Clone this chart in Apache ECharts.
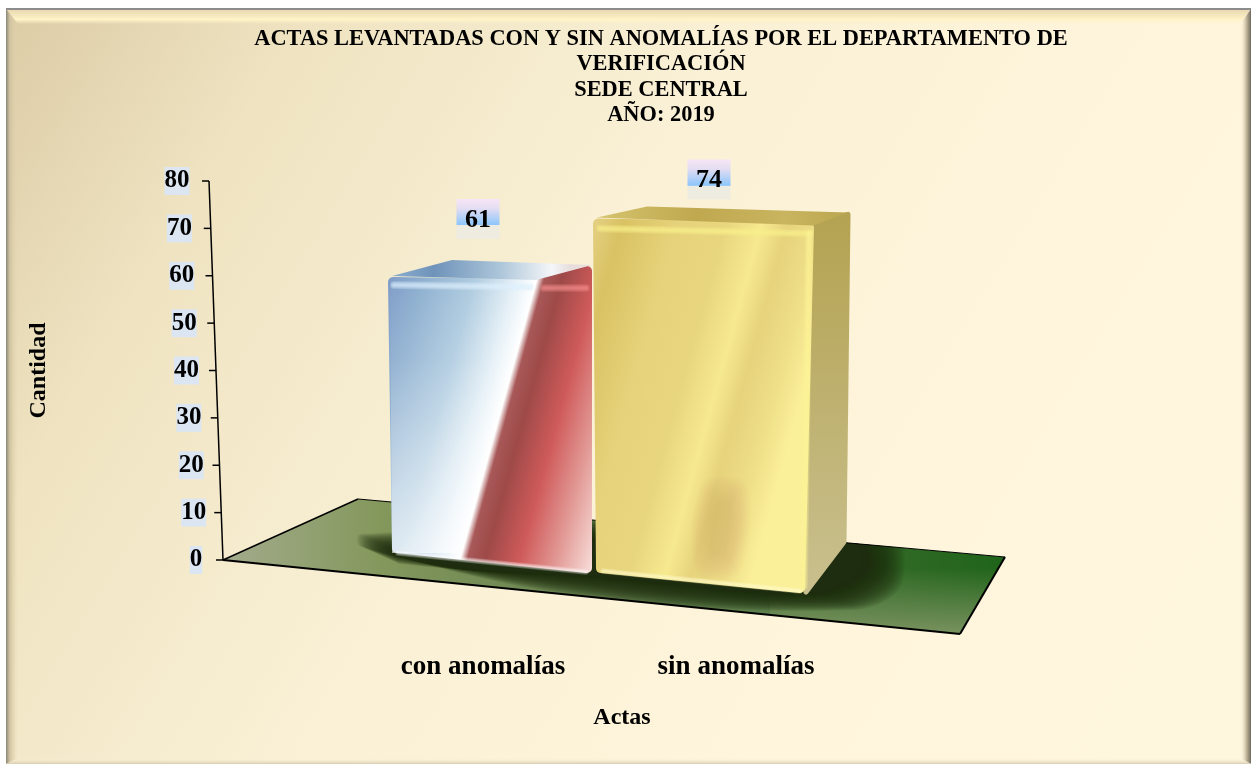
<!DOCTYPE html>
<html>
<head>
<meta charset="utf-8">
<style>
  html, body { margin: 0; padding: 0; background: #fff; }
  #chart { width: 1251px; height: 764px; }
</style>
<script src="https://cdn.jsdelivr.net/npm/echarts@6/dist/echarts.min.js"></script>
</head>
<body>
<div id="chart"></div>
<script>
var categories = ['con anomalías', 'sin anomalías'];
var values = [61, 74];
var yTicks = [0, 10, 20, 30, 40, 50, 60, 70, 80];
var titleLines = [
  'ACTAS LEVANTADAS CON Y SIN ANOMALÍAS POR EL DEPARTAMENTO DE',
  'VERIFICACIÓN',
  'SEDE CENTRAL',
  'AÑO: 2019'
];

var serif = '"Liberation Serif", "Times New Roman", serif';

// floor of the fake 3d scene
var floorPts = [[223, 560], [358, 499], [1005, 557], [960, 634]];

// slanted value axis: x moves left as the value grows
function axisX(v) { return 223 - v * 14 / 80; }
function labelX(v) { return 196 - v * 19 / 80; }

function lin(x, y, x2, y2, stops) {
  return {
    type: 'linear', global: true, x: x, y: y, x2: x2, y2: y2,
    colorStops: stops.map(function(s) { return { offset: s[0], color: s[1] }; })
  };
}

function poly(pts, fill, extra) {
  var style = { fill: fill };
  for (var k in (extra || {})) style[k] = extra[k];
  return { type: 'polygon', shape: { points: pts }, style: style };
}

// blur by stacking: the same outline grown step by step at low alpha
function softPoly(pts, rgb, alpha, spreadX, spreadY, steps) {
  var cx = 0, cy = 0;
  pts.forEach(function(p) { cx += p[0] / pts.length; cy += p[1] / pts.length; });
  var out = [];
  for (var s = steps; s >= 0; s--) {
    var k = s / steps;
    out.push({
      type: 'polygon',
      shape: {
        smooth: 0.35,
        points: pts.map(function(p) {
          return [p[0] + (p[0] >= cx ? 1 : -1) * spreadX * k, p[1] + (p[1] >= cy ? 1 : -1) * spreadY * k];
        })
      },
      style: { fill: 'rgba(' + rgb + ',' + alpha + ')' }
    });
  }
  return out;
}

function softLine(pts, rgb, alpha, w, steps) {
  var out = [];
  for (var s = steps; s >= 0; s--) {
    out.push({
      type: 'polyline',
      shape: { points: pts },
      style: { fill: null, stroke: 'rgba(' + rgb + ',' + alpha + ')', lineWidth: w + s * 1.5, lineCap: 'round' }
    });
  }
  return out;
}

function edge(a, b, w) {
  return { type: 'line', shape: { x1: a[0], y1: a[1], x2: b[0], y2: b[1] }, style: { stroke: '#000', lineWidth: w } };
}

function renderFloor() {
  var inner = [
    poly(floorPts, lin(223, 600, 1005, 600, [[0, '#a3ab8c'], [0.2, '#84985c'], [0.55, '#56743f'], [1, '#1f641a']])),
    poly([[770, 640], [1010, 640], [1010, 560], [770, 560]], lin(0, 568, 0, 636, [[0, 'rgba(128,150,100,0)'], [1, 'rgba(128,150,100,0.95)']])),
    poly([[223, 640], [770, 640], [770, 540], [223, 520]], lin(0, 560, 0, 625, [[0, 'rgba(128,150,110,0)'], [1, 'rgba(128,150,110,0.5)']]))
  ].concat(softPoly([[400, 552], [845, 538], [862, 566], [815, 592], [620, 578], [400, 564]], '26,42,20', 0.065, 40, 18, 36));
  return {
    type: 'group',
    children: [
      { type: 'group', clipPath: { type: 'polygon', shape: { points: floorPts } }, children: inner },
      edge(floorPts[0], floorPts[1], 1.5),
      edge(floorPts[1], floorPts[2], 1),
      edge(floorPts[2], floorPts[3], 2),
      edge(floorPts[3], floorPts[0], 2)
    ]
  };
}

function renderTick(params, api) {
  var v = api.value(0);
  var y = api.coord([0, v])[1];
  var x = axisX(v);
  var kids = [{
    type: 'line',
    shape: { x1: x - 7, y1: y, x2: x, y2: y },
    style: { stroke: '#000', lineWidth: 1.5 }
  }, {
    type: 'text',
    style: {
      text: String(v), x: labelX(v), y: y, align: 'center', verticalAlign: 'middle',
      font: 'bold 25px ' + serif, fill: '#000',
      backgroundColor: '#dce6f2', padding: [1, 0, 0, 0], lineHeight: 27
    }
  }];
  if (v === yTicks[yTicks.length - 1]) {
    kids.unshift({
      type: 'line',
      shape: { x1: axisX(0), y1: api.coord([0, 0])[1], x2: x, y2: y },
      style: { stroke: '#000', lineWidth: 1.5 }
    });
  }
  return { type: 'group', children: kids };
}

function valueLabel(cx, cy, v) {
  return [{
    type: 'rect',
    shape: { x: cx - 21.5, y: cy - 20, width: 43, height: 40 },
    style: {
      fill: {
        type: 'linear', x: 0, y: 0, x2: 0, y2: 1,
        colorStops: [
          { offset: 0, color: '#f6e6f6' }, { offset: 0.22, color: '#e6def2' },
          { offset: 0.65, color: '#8cc6fb' }, { offset: 0.66, color: '#eeebe0' }, { offset: 1, color: '#eeebe0' }
        ]
      }
    }
  }, {
    type: 'text',
    style: { text: String(v), x: cx, y: cy + 1, align: 'center', verticalAlign: 'middle', font: 'bold 26px ' + serif, fill: '#000' }
  }];
}

// y is the pixel of the value on the axis, the box hangs from it
function barOne(y) {
  var t = y + 6;
  var front = [[393, t + 5], [535, t + 7], [587, t - 6], [587, 568], [397, 548]];
  var g = lin(388, t, 388 + 270, t + 74, [
    [0, '#7f9cc8'], [0.12, '#8fb0d0'], [0.3, '#b0cce0'], [0.45, '#e8f2f8'], [0.515, '#ffffff'],
    [0.54, '#a85858'], [0.6, '#9e4a48'], [0.72, '#cf5a5a'], [0.85, '#e29a96'], [1, '#fbe8e4']
  ]);
  return [
    poly(front, g, { stroke: g, lineWidth: 10, lineJoin: 'round' }),
    poly([[390, t + 2], [536, t + 2], [462, 553], [392, 553]], lin(0, t, 0, 553, [[0, 'rgba(255,255,255,0)'], [0.3, 'rgba(255,255,255,0.08)'], [1, 'rgba(255,255,255,0.6)']])),
    poly([[392, t - 1], [452, y - 11], [592, y - 6], [536, t + 3]], lin(388, 0, 570, 0, [[0, '#8fb0d0'], [0.25, '#6f93ba'], [0.6, '#a9c3d8'], [0.9, '#f4f6f8'], [1, '#e8dede']]))
  ].concat(
    softLine([[394, t + 8], [530, t + 10]], '225,240,255', 0.22, 2, 4),
    softLine([[544, t + 11], [586, t + 11]], '255,150,150', 0.18, 2, 4),
    softLine([[398, 553], [586, 572]], '255,255,255', 0.22, 1, 3)
  );
}

function barTwo(y) {
  var t = y + 9;
  var front = [[598, t + 5], [809, t + 9], [800, 588], [601, 568]];
  var g = lin(593, t, 593 + 240, t + 66, [
    [0, '#e4d084'], [0.12, '#d9c263'], [0.32, '#e6d27a'], [0.52, '#e8d67e'], [0.66, '#f7e98f'],
    [0.76, '#e6d37c'], [0.9, '#f0e08a'], [1, '#fbf09a']
  ]);
  var sideFill = lin(0, t, 0, 594, [[0, '#b4a352'], [1, '#c9c08f']]);
  return [
    poly([[813, t + 7], [848, y + 5], [844, 542], [806, 592]], sideFill, { stroke: sideFill, lineWidth: 5, lineJoin: 'round' }),
    poly(front, g, { stroke: g, lineWidth: 10, lineJoin: 'round' })
  ].concat(
    softPoly([[718, 505], [730, 505], [724, 552], [712, 552]], '205,175,80', 0.018, 16, 22, 16),
    [poly([[597, t - 1], [647, y - 3], [848, y + 3], [813, t + 7]], lin(593, 0, 850, 0, [[0, '#d6c56f'], [0.4, '#bfa84f'], [0.75, '#c9b45f'], [1, '#bba650']]))],
    softLine([[600, t + 10], [810, t + 15]], '252,242,140', 0.22, 2, 4),
    softLine([[809, t + 15], [804, 586]], '255,247,150', 0.2, 2, 4),
    softLine([[603, 571], [800, 591]], '255,250,205', 0.25, 1, 3)
  );
}

function renderBar(params, api) {
  var i = api.value(0);
  var v = api.value(1);
  var p = api.coord([i, v]);
  var kids, label;
  if (i === 0) {
    kids = barOne(p[1]);
    label = valueLabel(p[0] - 5, p[1] - 52, v);
  } else {
    kids = barTwo(p[1]);
    label = valueLabel(p[0] - 27, p[1] - 30, v);
  }
  return { type: 'group', children: kids.concat(label) };
}

// frame with a small bevel, drawn behind everything
var frameL = 6, frameT = 9, frameR = 1251, frameB = 764;
var frameGraphics = [
  { type: 'rect', z: -20, shape: { x: frameL, y: frameT, width: frameR - frameL, height: frameB - frameT },
    style: { fill: { type: 'linear', x: 0, y: 0, x2: 1, y2: 1, colorStops: [
      { offset: 0, color: '#dccca6' }, { offset: 0.18, color: '#efe3c1' }, { offset: 0.42, color: '#f9f0d5' }, { offset: 0.7, color: '#fef5dc' }, { offset: 1, color: '#fff6de' }
    ] } } },
  { type: 'polygon', z: -19, shape: { points: [[frameL, frameT], [frameR, frameT], [frameR - 12, frameT + 15], [frameL + 12, frameT + 15]] },
    style: { fill: { type: 'linear', x: 0, y: 0, x2: 0, y2: 1, colorStops: [
      { offset: 0, color: '#e6d6ae' }, { offset: 0.7, color: '#fff3c8' }, { offset: 1, color: 'rgba(255,243,200,0)' }
    ] } } },
  { type: 'polygon', z: -19, shape: { points: [[frameL, frameT], [frameL + 12, frameT + 15], [frameL + 12, frameB - 6], [frameL, frameB]] },
    style: { fill: { type: 'linear', x: 0, y: 0, x2: 1, y2: 0, colorStops: [
      { offset: 0, color: '#8a8778' }, { offset: 0.3, color: '#cfc2a0' }, { offset: 1, color: 'rgba(230,215,175,0)' }
    ] } } },
  { type: 'polygon', z: -19, shape: { points: [[frameR, frameT], [frameR - 11, frameT + 15], [frameR - 11, frameB - 6], [frameR, frameB]] },
    style: { fill: { type: 'linear', x: 1, y: 0, x2: 0, y2: 0, colorStops: [
      { offset: 0, color: '#6e6a5e' }, { offset: 0.45, color: '#c9bda0' }, { offset: 1, color: 'rgba(255,246,222,0)' }
    ] } } },
  { type: 'polygon', z: -19, shape: { points: [[frameL, frameB], [frameL + 12, frameB - 6], [frameR - 11, frameB - 6], [frameR, frameB]] },
    style: { fill: { type: 'linear', x: 0, y: 1, x2: 0, y2: 0, colorStops: [
      { offset: 0, color: '#d8ccae' }, { offset: 1, color: 'rgba(255,246,222,0)' }
    ] } } },
  { type: 'line', z: -18, shape: { x1: frameL, y1: frameT, x2: frameR, y2: frameT }, style: { stroke: '#8c8c8c', lineWidth: 2 } },
  { type: 'text', z: 10, x: 622, y: 718,
    style: { text: 'Actas', font: 'bold 24px ' + serif, fill: '#000', textAlign: 'center', textVerticalAlign: 'middle' } }
];

var chart = echarts.init(document.getElementById('chart'));
chart.setOption({
  animation: false,
  title: {
    text: titleLines.join('\n'),
    left: 656,
    top: 21,
    textAlign: 'center',
    textStyle: { fontFamily: serif, fontWeight: 'bold', fontSize: 22.4, lineHeight: 25.5, color: '#000' }
  },
  grid: { left: 356.5, right: 388.5, top: 181, bottom: 764 - 560 },
  xAxis: {
    type: 'category',
    data: categories,
    axisLine: { show: false },
    axisTick: { show: false },
    axisLabel: { margin: 94, fontFamily: serif, fontWeight: 'bold', fontSize: 27, color: '#000' }
  },
  yAxis: {
    type: 'value',
    min: 0,
    max: 80,
    interval: 10,
    name: 'Cantidad',
    nameLocation: 'middle',
    nameGap: 306,
    nameTextStyle: { fontFamily: serif, fontWeight: 'bold', fontSize: 24, color: '#000' },
    axisLine: { show: false },
    axisTick: { show: false },
    axisLabel: { show: false },
    splitLine: { show: false }
  },
  graphic: frameGraphics,
  series: [
    { type: 'custom', z: 1, coordinateSystem: 'cartesian2d', data: [[0, 0]], renderItem: renderFloor, clip: false, silent: true },
    { type: 'custom', z: 2, coordinateSystem: 'cartesian2d', data: yTicks.map(function(t) { return [t]; }), encode: { y: 0 }, renderItem: renderTick, clip: false, silent: true },
    { type: 'custom', z: 3, coordinateSystem: 'cartesian2d', data: values.map(function(v, i) { return [i, v]; }), encode: { x: 0, y: 1 }, renderItem: renderBar, clip: false, silent: true }
  ]
});
</script>
</body>
</html>
